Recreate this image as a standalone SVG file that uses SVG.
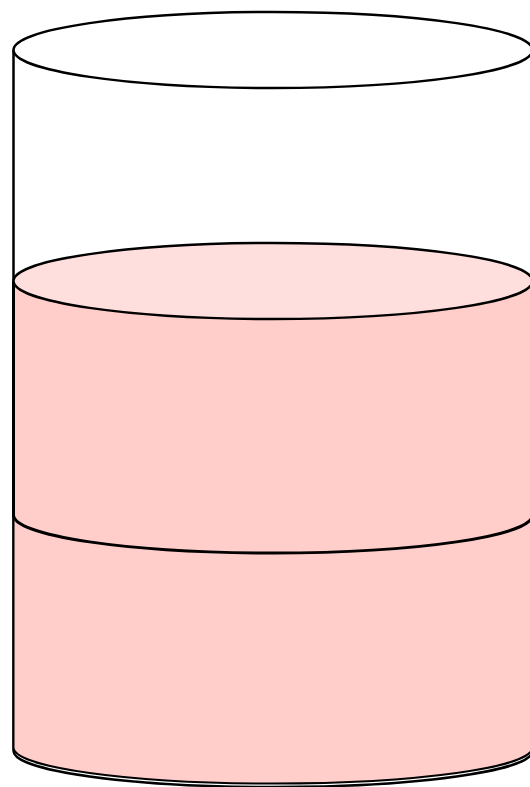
<svg xmlns="http://www.w3.org/2000/svg" width="530" height="787" viewBox="0 0 530 787">
<style>
.ln{stroke:#000;stroke-width:2.5;fill:none}
.liq{fill:#ffcecb}
.liqtop{fill:#ffdfde}
</style>
<rect width="530" height="787" fill="#fff"/>
<g id="beaker">
<path d="M13.5,50 L13.5,751 A259.5,36 0 0 0 532.5,751 L532.5,50" class="ln" style="fill:#fff"/>
</g>
<g id="liquid-lower">
<path d="M13.5,515 L13.5,747.5 A259.5,36 0 0 0 532.5,747.5 L532.5,515 Z" class="liq"/>
<path d="M13.5,515 L13.5,747.5 A259.5,36 0 0 0 532.5,747.5 L532.5,515" class="ln" style="stroke-width:2"/>
</g>
<g id="liquid-upper">
<path d="M13.5,281 L13.5,515 A259.5,38 0 0 0 532.5,515 L532.5,281 Z" class="liq"/>
<path d="M13.5,281 L13.5,515 A259.5,38 0 0 0 532.5,515 L532.5,281" class="ln" style="stroke-width:3"/>
<ellipse cx="273" cy="281" rx="259.5" ry="38" class="liqtop"/>
<ellipse cx="273" cy="281" rx="259.5" ry="38" class="ln"/>
</g>
<g id="beaker-rim">
<ellipse cx="273" cy="50" rx="259.5" ry="38" class="ln" style="fill:#fff"/>
</g>
</svg>
